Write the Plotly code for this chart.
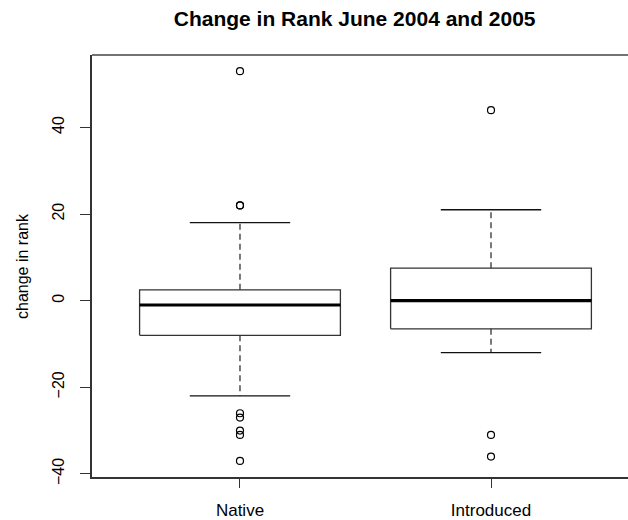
import plotly.graph_objects as go

# ---- data ----
categories = ["Native", "Introduced"]
positions = [1, 2]
q1 = [-8, -6.5]
median = [-1, 0]
q3 = [2.5, 7.5]
lower_whisker = [-22, -12]
upper_whisker = [18, 21]
outliers = [[53, 22, 22, -26, -27, -30, -31, -37], [44, -31, -36]]
y_ticks = [-40, -20, 0, 20, 40]

title_text = "Change in Rank June 2004 and 2005"
y_label = "change in rank"

box_half = 0.4
staple_half = 0.2
FONT = "Liberation Sans, Arial, sans-serif"

box_x, box_y = [], []
med_x, med_y = [], []
wh_x, wh_y = [], []
st_x, st_y = [], []
out_x, out_y = [], []
for p, a, m, b, lw, uw, outs in zip(positions, q1, median, q3, lower_whisker, upper_whisker, outliers):
    box_x += [p - box_half, p + box_half, p + box_half, p - box_half, p - box_half, None]
    box_y += [a, a, b, b, a, None]
    med_x += [p - box_half, p + box_half, None]
    med_y += [m, m, None]
    wh_x += [p, p, None, p, p, None]
    wh_y += [b, uw, None, a, lw, None]
    st_x += [p - staple_half, p + staple_half, None, p - staple_half, p + staple_half, None]
    st_y += [uw, uw, None, lw, lw, None]
    out_x += [p] * len(outs)
    out_y += outs

fig = go.Figure()
fig.add_trace(go.Scatter(x=wh_x, y=wh_y, mode="lines",
                         line=dict(color="#222", width=1.2, dash="6px,4px"), hoverinfo="skip"))
fig.add_trace(go.Scatter(x=st_x, y=st_y, mode="lines",
                         line=dict(color="#111", width=1.3), hoverinfo="skip"))
fig.add_trace(go.Scatter(x=box_x, y=box_y, mode="lines",
                         line=dict(color="#333", width=1.3), hoverinfo="skip"))
fig.add_trace(go.Scatter(x=med_x, y=med_y, mode="lines",
                         line=dict(color="#000", width=3.2), hoverinfo="skip"))
fig.add_trace(go.Scatter(x=out_x, y=out_y, mode="markers",
                         marker=dict(symbol="circle-open", size=7, color="#000",
                                     line=dict(width=1.2, color="#000")),
                         hoverinfo="skip"))

fig.update_layout(
    width=628, height=520,
    margin=dict(l=92, r=0, t=55, b=41),
    paper_bgcolor="white", plot_bgcolor="white",
    showlegend=False,
    font=dict(family=FONT, color="black", size=16),
    title=dict(text="<b>" + title_text + "</b>", xref="paper", x=0.49, xanchor="center",
               yref="container", y=1 - 19 / 520, yanchor="middle",
               font=dict(family=FONT, size=21, color="black")),
    shapes=[dict(type="line", xref="paper", yref="paper", x0=0, x1=1, y0=1, y1=1,
                 line=dict(color="#444", width=1.5))],
    annotations=[dict(text=y_label, xref="paper", yref="paper", x=(22 - 92) / 536, y=0.5,
                      xanchor="center", yanchor="middle", textangle=-90, showarrow=False,
                      font=dict(family=FONT, size=16, color="black"))],
)
fig.update_xaxes(range=[0.4104, 2.5458], tickvals=positions, ticktext=categories,
                 ticks="outside", ticklen=9, tickcolor="#333", tickwidth=1.2,
                 showline=True, linecolor="#333", linewidth=1.5,
                 showgrid=False, zeroline=False, ticklabelstandoff=8,
                 tickfont=dict(size=17))
fig.update_yaxes(range=[-40.72, 56.73], tickvals=y_ticks,
                 ticks="outside", ticklen=10, tickcolor="#333", tickwidth=1.2,
                 tickangle=-90, showline=True, linecolor="#333", linewidth=1.5,
                 showgrid=False, zeroline=False, ticklabelstandoff=10,
                 tickfont=dict(size=16))

fig.write_html("out.html")
